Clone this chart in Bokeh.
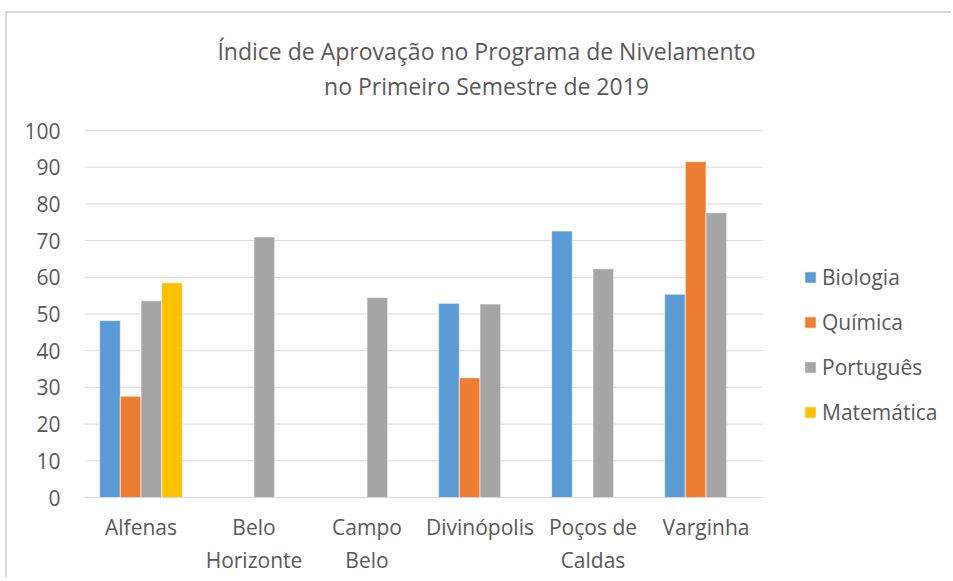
import numpy as np
from bokeh.plotting import figure
from bokeh.models import ColumnDataSource, Legend, LegendItem, Label, Range1d, FixedTicker
from bokeh.embed import file_html
from bokeh.resources import INLINE

categories = ["Alfenas", "Belo\nHorizonte", "Campo\nBelo", "Divinópolis", "Poços de\nCaldas", "Varginha"]
biologia = [48.2, None, None, 52.9, 72.6, 55.4]
quimica = [27.6, None, None, 32.6, None, 91.5]
portugues = [53.6, 71.0, 54.5, 52.7, 62.3, 77.6]
matematica = [58.5, None, None, None, None, None]
series_names = ["Biologia", "Química", "Português", "Matemática"]
series_values = [biologia, quimica, portugues, matematica]
colors = ["#5B9BD5", "#ED7D31", "#A5A5A5", "#FFC000"]
y_ticks = list(range(0, 101, 10))
title_lines = ["Índice de Aprovação no Programa de Nivelamento", "no Primeiro Semestre de 2019"]

FONT = "Open Sans"
TXT = "#595959"
OFF_X, OFF_Y = 7, 13            # chart-area border offset on the page
W, H = 946, 566
LEFT, BOTTOM = 84 - OFF_X, 497 - OFF_Y   # frame left / frame bottom in canvas pixels
PX_PER_UNIT = 3.67              # vertical scale (pixels per value unit)
PX_PER_CAT = 113.0              # width of one category slot

n = len(categories)
centers = np.arange(n) + 0.5
frame_w = W - LEFT

p = figure(width=W, height=H, output_backend="svg", toolbar_location=None,
           x_range=Range1d(0, frame_w / PX_PER_CAT), y_range=Range1d(0, BOTTOM / PX_PER_UNIT),
           min_border_left=LEFT, min_border_right=0, min_border_top=0, min_border_bottom=H - BOTTOM)
p.styles = {"margin-left": f"{OFF_X}px", "margin-top": f"{OFF_Y}px",
            "box-shadow": "-2px -2px 0 0 #D9D9D9"}
p.outline_line_color = None
p.xgrid.grid_line_color = None
p.ygrid.grid_line_color = None

# horizontal grid lines limited to the category area
p.segment(x0=[0] * len(y_ticks), x1=[n] * len(y_ticks), y0=y_ticks, y1=y_ticks,
          line_color="#D9D9D9", line_width=1)

p.yaxis.ticker = FixedTicker(ticks=y_ticks)
p.yaxis.axis_line_color = None
p.yaxis.major_tick_line_color = None
p.yaxis.minor_tick_line_color = None
p.yaxis.major_label_standoff = 18
p.yaxis.major_label_text_font = FONT
p.yaxis.major_label_text_font_size = "21px"
p.yaxis.major_label_text_color = TXT

p.xaxis.ticker = FixedTicker(ticks=list(centers))
p.xaxis.major_label_overrides = {float(c): lab for c, lab in zip(centers, categories)}
p.xaxis.bounds = (0, n)
p.xaxis.axis_line_color = "#D9D9D9"
p.xaxis.major_tick_line_color = None
p.xaxis.minor_tick_line_color = None
p.xaxis.major_label_standoff = 9
p.xaxis.major_label_text_font = FONT
p.xaxis.major_label_text_font_size = "21px"
p.xaxis.major_label_text_color = TXT

w = 0.183
renderers = []
for j, (vals, col) in enumerate(zip(series_values, colors)):
    top = np.array([np.nan if v is None else v for v in vals], dtype=float)
    src = ColumnDataSource(dict(x=centers + (j - 1.5) * w, top=top))
    r = p.vbar(x="x", top="top", width=w, source=src,
               fill_color=col, line_color="white", line_width=0.6)
    renderers.append(r)

legend = Legend(items=[LegendItem(label=nm, renderers=[r]) for nm, r in zip(series_names, renderers)],
                location=(719, 71), orientation="vertical")
legend.border_line_color = None
legend.background_fill_alpha = 0
legend.padding = 0
legend.margin = 0
legend.glyph_width = 14
legend.glyph_height = 14
legend.label_height = 27
legend.spacing = 17
legend.label_standoff = 5
legend.label_text_font = FONT
legend.label_text_font_size = "21px"
legend.label_text_color = TXT
p.add_layout(legend, "center")

for k, t in enumerate(title_lines):
    p.add_layout(Label(x=402, y=447 - 35 * k, x_units="screen", y_units="screen", text=t,
                       text_align="center", text_baseline="middle", text_font=FONT,
                       text_font_size="23px", text_color=TXT))

open("out.html", "w").write(file_html(p, INLINE))
